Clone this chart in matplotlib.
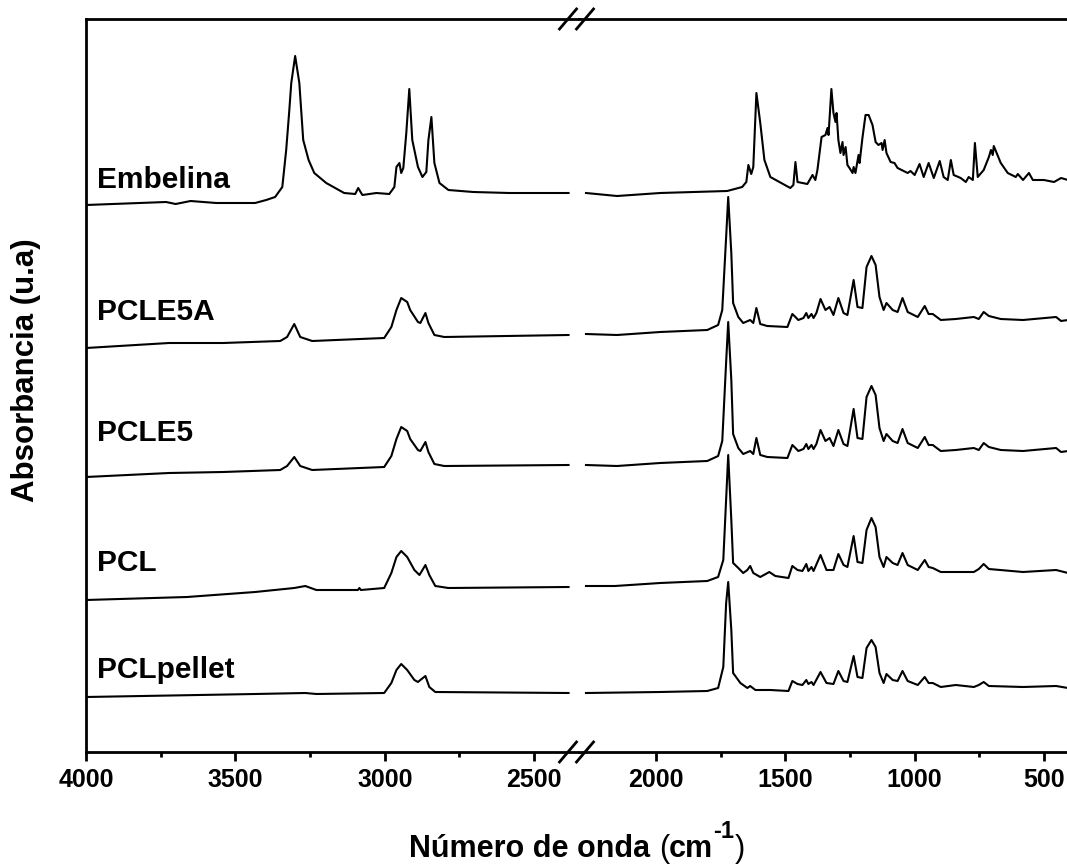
import matplotlib
matplotlib.use("Agg")
import matplotlib.pyplot as plt
from matplotlib.lines import Line2D
from matplotlib.ticker import FixedLocator

plt.rcParams["font.family"] = ["Liberation Sans", "DejaVu Sans"]
plt.rcParams["font.weight"] = "bold"

samples = ["Embelina", "PCLE5A", "PCLE5", "PCL", "PCLpellet"]

# --- stacked FTIR spectra (absorbance in arbitrary units, already offset) ---
# high wavenumber region (4000 - 2385 cm-1)
emb_wn_hi = [4000, 3732, 3700, 3650, 3564, 3434, 3397, 3367, 3343, 3330, 3320, 3313, 3300,
             3286, 3273, 3255, 3236, 3196, 3136, 3099, 3089, 3075, 3028, 2985, 2968, 2961,
             2951, 2945, 2938, 2928, 2918, 2908, 2889, 2874, 2861, 2854, 2844, 2834, 2817,
             2787, 2704, 2583, 2385]
emb_ab_hi = [547, 550, 548, 551, 549, 549, 552, 555, 565, 602, 640, 669, 696,
             669, 612, 592, 579, 569, 559, 558, 564, 557, 559, 558, 565, 585,
             589, 579, 584, 619, 663, 612, 585, 575, 580, 612, 635, 589, 569,
             562, 560, 559, 559]

e5a_wn_hi = [4000, 3722, 3541, 3350, 3327, 3303, 3283, 3243, 3002, 2978, 2961, 2945, 2925,
             2915, 2889, 2881, 2864, 2854, 2834, 2801, 2385]
e5a_ab_hi = [404, 409, 409, 411, 415, 428, 415, 411, 414, 425, 442, 454, 450,
             442, 430, 429, 439, 429, 417, 415, 417]

e5_wn_hi = [4000, 3722, 3541, 3350, 3327, 3303, 3283, 3243, 3002, 2978, 2961, 2945, 2925,
            2915, 2889, 2881, 2864, 2854, 2834, 2801, 2385]
e5_ab_hi = [275, 279, 280, 282, 286, 295, 286, 282, 285, 296, 313, 325, 321,
            313, 302, 301, 310, 300, 288, 286, 287]

pcl_wn_hi = [4000, 3662, 3434, 3303, 3266, 3229, 3090, 3085, 3080, 3002, 2978, 2961, 2945,
             2925, 2901, 2884, 2864, 2851, 2831, 2787, 2385]
pcl_ab_hi = [152, 155, 160, 164, 166, 162, 162, 164, 162, 164, 179, 195, 201,
             195, 182, 177, 187, 177, 166, 164, 165]

pel_wn_hi = [4000, 3434, 3266, 3229, 3002, 2978, 2961, 2945, 2925, 2901, 2889, 2881, 2864,
             2851, 2831, 2385]
pel_ab_hi = [55, 58, 59, 58, 59, 69, 82, 88, 82, 72, 70, 72, 76,
             65, 60, 59]

# fingerprint region (2271 - 407 cm-1)
emb_wn_lo = [2271, 2151, 1984, 1725, 1667, 1651, 1643, 1632, 1624, 1612, 1597, 1581, 1558,
             1481, 1469, 1461, 1453, 1415, 1395, 1384, 1376, 1360, 1345, 1337, 1333, 1322,
             1314, 1306, 1302, 1295, 1287, 1279, 1275, 1267, 1260, 1252, 1240, 1236, 1229,
             1217, 1213, 1202, 1190, 1178, 1163, 1151, 1140, 1128, 1124, 1116, 1109, 1093,
             1078, 1066, 1027, 1016, 1000, 981, 965, 946, 926, 903, 888, 872, 860, 849,
             822, 802, 791, 775, 767, 756, 733, 713, 705, 698, 694, 667, 640, 609, 601,
             581, 558, 543, 500, 461, 434, 407]
emb_ab_lo = [559, 556, 559, 561, 565, 570, 587, 578, 585, 659, 629, 592, 575,
             564, 567, 590, 570, 568, 577, 572, 582, 615, 617, 624, 617, 663,
             639, 630, 639, 612, 599, 610, 597, 605, 587, 584, 579, 585, 579,
             597, 589, 614, 637, 637, 627, 610, 607, 609, 602, 612, 599, 590,
             589, 584, 579, 581, 577, 588, 575, 589, 574, 591, 575, 572, 592, 577,
             574, 570, 575, 572, 609, 575, 582, 595, 602, 597, 606, 589, 579, 575, 578,
             572, 579, 572, 572, 570, 574, 572]

e5a_wn_lo = [2271, 2151, 1984, 1802, 1760, 1744, 1729, 1721, 1709, 1702, 1682, 1663, 1636,
             1624, 1612, 1597, 1570, 1492, 1473, 1461, 1450, 1430, 1419, 1411, 1399, 1391,
             1380, 1364, 1345, 1329, 1314, 1295, 1275, 1260, 1236, 1221, 1202, 1186, 1167,
             1151, 1136, 1120, 1109, 1085, 1066, 1047, 1027, 988, 961, 946, 930, 899, 841,
             771, 752, 733, 713, 667, 581, 453, 434, 407]
e5a_ab_lo = [418, 417, 420, 422, 427, 442, 515, 555, 499, 449, 435, 429, 432,
             429, 444, 428, 426, 425, 438, 435, 432, 434, 439, 434, 438, 434,
             439, 453, 442, 445, 437, 454, 439, 437, 472, 445, 444, 485, 496,
             487, 455, 442, 449, 442, 440, 454, 440, 435, 446, 438, 438, 432, 433,
             435, 433, 440, 436, 433, 432, 435, 431, 432]

e5_wn_lo = [2271, 2151, 1984, 1802, 1760, 1744, 1729, 1721, 1709, 1702, 1682, 1663, 1636,
            1624, 1612, 1597, 1570, 1492, 1473, 1461, 1450, 1430, 1419, 1411, 1399, 1391,
            1380, 1364, 1345, 1329, 1314, 1295, 1275, 1260, 1236, 1221, 1202, 1186, 1167,
            1151, 1136, 1120, 1109, 1085, 1066, 1047, 1027, 988, 961, 946, 930, 899, 841,
            771, 752, 733, 713, 667, 581, 453, 434, 407]
e5_ab_lo = [287, 286, 289, 291, 296, 311, 390, 430, 372, 318, 304, 298, 301,
            298, 314, 297, 295, 294, 307, 304, 301, 303, 308, 303, 307, 303,
            308, 322, 311, 314, 306, 322, 308, 306, 343, 314, 313, 355, 366,
            357, 324, 311, 318, 311, 309, 323, 309, 304, 315, 307, 307, 301, 302,
            304, 302, 309, 305, 302, 301, 304, 300, 301]

pcl_wn_lo = [2271, 2159, 1984, 1802, 1760, 1740, 1721, 1709, 1702, 1682, 1663, 1647, 1636,
             1624, 1597, 1562, 1539, 1488, 1473, 1453, 1434, 1419, 1411, 1399, 1391, 1364,
             1341, 1314, 1295, 1275, 1260, 1236, 1221, 1202, 1186, 1167, 1151, 1136, 1120,
             1109, 1085, 1066, 1047, 1027, 988, 961, 946, 930, 899, 841, 771, 752, 733,
             713, 581, 453, 407]
pcl_ab_lo = [166, 166, 169, 171, 175, 192, 297, 232, 189, 184, 179, 182, 186,
             179, 175, 180, 176, 174, 186, 182, 181, 188, 181, 185, 181, 197,
             182, 182, 198, 187, 185, 216, 190, 189, 222, 234, 225, 195, 185,
             195, 189, 187, 199, 187, 182, 192, 185, 184, 180, 180, 180, 183, 188,
             183, 180, 182, 179]

pel_wn_lo = [2271, 1984, 1802, 1760, 1740, 1729, 1721, 1709, 1702, 1674, 1647, 1636, 1616,
             1558, 1488, 1473, 1453, 1434, 1419, 1411, 1399, 1391, 1364, 1341, 1314, 1295,
             1275, 1260, 1236, 1221, 1202, 1186, 1167, 1151, 1136, 1120, 1109, 1085, 1066,
             1047, 1027, 988, 961, 946, 930, 899, 841, 771, 752, 733, 713, 581, 453, 407]
pel_ab_lo = [59, 60, 61, 64, 85, 149, 170, 122, 79, 69, 64, 66, 62,
             62, 61, 71, 68, 67, 72, 68, 70, 67, 80, 69, 68, 81,
             71, 70, 96, 75, 74, 104, 112, 105, 79, 69, 78, 72, 71,
             81, 71, 67, 75, 69, 69, 65, 67, 65, 67, 70, 66, 65, 66, 64]

spectra = [
    (emb_wn_hi, emb_ab_hi, emb_wn_lo, emb_ab_lo),
    (e5a_wn_hi, e5a_ab_hi, e5a_wn_lo, e5a_ab_lo),
    (e5_wn_hi, e5_ab_hi, e5_wn_lo, e5_ab_lo),
    (pcl_wn_hi, pcl_ab_hi, pcl_wn_lo, pcl_ab_lo),
    (pel_wn_hi, pel_ab_hi, pel_wn_lo, pel_ab_lo),
]
label_y = [572, 440, 319, 189, 82]

# --- layout (pixels) ---
W, H = 1067, 865
x_left, x_split, x_right = 86, 579, 1067
y_bottom, y_top = 752, 19

fig = plt.figure(figsize=(W / 100, H / 100), dpi=100)


def box(x0, x1):
    return [x0 / W, (H - y_bottom) / H, (x1 - x0) / W, (y_bottom - y_top) / H]


ax_hi = fig.add_axes(box(x_left, x_split))
ax_lo = fig.add_axes(box(x_split, x_right + 1))

for ax in (ax_hi, ax_lo):
    ax.set_ylim(0, y_bottom - y_top)
    ax.set_yticks([])
    for s in ax.spines.values():
        s.set_linewidth(2)
    ax.spines["right"].set_visible(False)
    ax.tick_params(axis="x", which="major", direction="out", length=6.5, width=2,
                   labelsize=18, pad=5)
    ax.tick_params(axis="x", which="minor", direction="out", length=3.5, width=2)
ax_lo.spines["left"].set_visible(False)

ax_hi.set_xlim(4000, 2350)
ax_lo.set_xlim(2298, 407)
ax_hi.set_xticks([4000, 3500, 3000, 2500])
ax_hi.xaxis.set_minor_locator(FixedLocator([3750, 3250, 2750]))
ax_lo.set_xticks([2000, 1500, 1000, 500])
ax_lo.xaxis.set_minor_locator(FixedLocator([1750, 1250, 750]))

for name, (wh, ah, wl, al), ly in zip(samples, spectra, label_y):
    ax_hi.plot(wh, ah, color="black", lw=1.5)
    ax_lo.plot(wl, al, color="black", lw=1.5)
    ax_hi.text(3962, ly, name, fontsize=21.5, fontweight="bold", ha="left", va="center")

# axis break marks "//" on top and bottom spines
for yc in (y_bottom, y_top):
    for xc in (568, 585):
        fig.add_artist(Line2D([(xc - 8.5) / W, (xc + 8.5) / W],
                              [1 - (yc + 10) / H, 1 - (yc - 10) / H],
                              transform=fig.transFigure, color="black", lw=2))

# x label built from pieces so the superscript keeps a plain hyphen
pieces = [("Número de onda ", "bold", 22, 0), ("(", "normal", 22, 0), ("cm", "bold", 22, 0),
          ("-1", "bold", 17, 19), (")", "normal", 22, 0)]
renderer = fig.canvas.get_renderer()
texts = []
total = 0
for s, wgt, size, rise in pieces:
    t = fig.text(0, 0, s, fontsize=size, fontweight=wgt, ha="left", va="baseline")
    w = t.get_window_extent(renderer).width
    texts.append((t, w, rise))
    total += w
x0 = 577 - total / 2
base = 857
for t, w, rise in texts:
    t.set_position((x0 / W, (H - base + rise) / H))
    x0 += w

fig.text(26 / W, 1 - 370 / H, "Absorbancia (u.a)", fontsize=22.5, fontweight="bold",
         rotation=90, ha="center", va="center")

fig.savefig("out.png", dpi=100)
